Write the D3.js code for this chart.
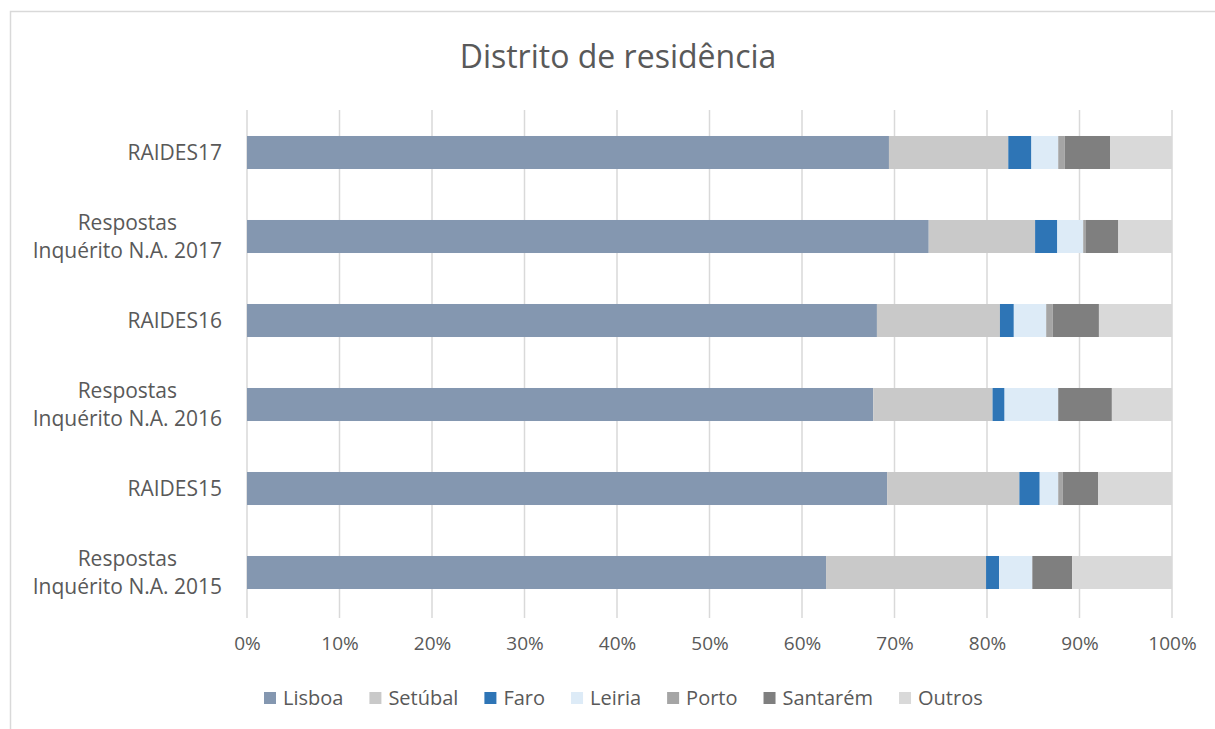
<!DOCTYPE html>
<html><head><meta charset="utf-8">
<script src="https://cdn.jsdelivr.net/npm/d3@7"></script>
<style>body{margin:0;background:#fff}svg{display:block}text{font-family:"Open Sans",Lato,sans-serif;fill:#595959}</style>
</head><body><svg id="c" width="1215" height="729"></svg>
<script>
const categories = [["RAIDES17"],["Respostas","Inquérito N.A. 2017"],["RAIDES16"],["Respostas","Inquérito N.A. 2016"],["RAIDES15"],["Respostas","Inquérito N.A. 2015"]];
const seriesNames = ["Lisboa","Setúbal","Faro","Leiria","Porto","Santarém","Outros"];
const seriesColors = ["#8497B0","#C9C9C9","#2E75B6","#DDEBF7","#A5A5A5","#7F7F7F","#D9D9D9"];
const lisboa   = [69.4,73.7,68.1,67.7,69.2,62.6];
const setubal  = [12.9,11.5,13.3,12.9,14.3,17.3];
const faro     = [2.5,2.4,1.5,1.3,2.2,1.4];
const leiria   = [2.9,2.8,3.5,5.8,2.0,3.6];
const porto    = [0.7,0.3,0.7,0.0,0.5,0.0];
const santarem = [4.9,3.5,5.0,5.8,3.8,4.3];
const outros   = [6.7,5.8,7.9,6.5,8.0,10.8];
const xTicks = [0,10,20,30,40,50,60,70,80,90,100];
const title = "Distrito de residência";

const series = [lisboa,setubal,faro,leiria,porto,santarem,outros];
const svg = d3.select("#c");
const keys = categories.map(c=>c.join(" "));
const rows = keys.map((k,i)=>{const r={key:k};seriesNames.forEach((s,j)=>r[s]=series[j][i]);return r;});
const stack = d3.stack().keys(seriesNames)(rows);

const x = d3.scaleLinear().domain([0,100]).range([247,1172]);
const y = d3.scaleBand().domain(keys).range([110.5,614.5]).paddingInner(0.607).paddingOuter(0.3035);

// border
svg.append("path").attr("d","M10.5,730 V11.5 H1216").attr("fill","none").attr("stroke","#D9D9D9").attr("stroke-width",1.5);

// title
svg.append("text").attr("x",618).attr("y",68).attr("text-anchor","middle").style("font-size","32px").text(title);

// grid
svg.append("g").selectAll("line").data(xTicks).join("line")
  .attr("x1",d=>x(d)).attr("x2",d=>x(d)).attr("y1",110).attr("y2",618)
  .attr("stroke","#D9D9D9").attr("stroke-width",1.5);

// bars
svg.append("g").selectAll("g").data(stack).join("g").attr("fill",(d,i)=>seriesColors[i])
  .selectAll("rect").data(d=>d).join("rect")
  .attr("x",d=>x(d[0])).attr("width",d=>x(d[1])-x(d[0]))
  .attr("y",d=>y(d.data.key)).attr("height",y.bandwidth());

// x axis labels
const xa = svg.append("g").attr("transform","translate(0,618)").call(d3.axisBottom(x).tickValues(xTicks).tickFormat(d=>d+"%").tickSize(0).tickPadding(19));
xa.select(".domain").remove();
xa.selectAll("text").style("font-size","19px").style("font-family","'Open Sans',Lato,sans-serif").attr("fill","#595959");

// y labels
const yl = svg.append("g");
categories.forEach((c,i)=>{
  const g = yl.append("g");
  const cy = y(keys[i]) + y.bandwidth()/2;
  const lh = 28;
  const t0 = cy - (c.length-1)*lh/2 + 7.5;
  const ts = c.map((line,j)=>g.append("text").attr("y",t0+j*lh).attr("text-anchor","middle").style("font-size","21px").text(line));
  const w = d3.max(ts.map(t=>t.node().getComputedTextLength()));
  ts.forEach(t=>t.attr("x",222-w/2));
});

// legend
const lg = svg.append("g");
let lx = 264;
seriesNames.forEach((s,i)=>{
  lg.append("rect").attr("x",lx).attr("y",692).attr("width",12).attr("height",12).attr("fill",seriesColors[i]);
  const t = lg.append("text").attr("x",lx+19).attr("y",705).style("font-size","20px").text(s);
  lx += 19 + t.node().getComputedTextLength() + 26;
});
</script></body></html>
